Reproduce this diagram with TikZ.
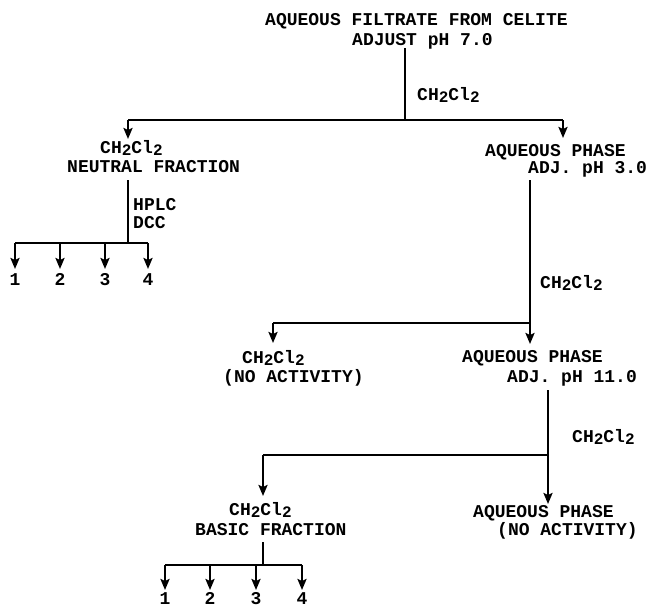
\documentclass[tikz,border=0pt]{standalone}
\usepackage{fontspec}
\setmainfont{Liberation Mono}
\usetikzlibrary{arrows.meta}
\newcommand\lowsub[1]{\raisebox{-2.5pt}{\fontsize{16}{18}\selectfont #1}}
\newcommand\chcl{CH\lowsub{2}Cl\lowsub{2}}
\begin{document}
\begin{tikzpicture}[x=1pt,y=-1pt,
  lbl/.style={anchor=base west, inner sep=0pt, font=\fontsize{18}{20}\selectfont\bfseries},
  numlbl/.style={anchor=base, inner sep=0pt, font=\fontsize{18}{20}\selectfont\bfseries},
  wire/.style={line width=2pt},
  bar/.style={line width=2.8pt},
  arr/.style={line width=2.2pt, -{Stealth[length=11pt,width=9pt,inset=2pt]}}]
\useasboundingbox (0,0) rectangle (650,608);
% texts
\node[lbl] (t1) at (265,25) {AQUEOUS FILTRATE FROM CELITE};
\node[lbl] (t2) at (352,45) {ADJUST pH 7.0};
\node[lbl] (r1) at (417,100) {\chcl};
\node[lbl] (n1) at (100,153) {\chcl};
\node[lbl] (n2) at (67,172) {NEUTRAL FRACTION};
\node[lbl] (hplc) at (133,210) {HPLC};
\node[lbl] (dcc) at (133,228) {DCC};
\node[numlbl] (p1) at (15,285) {1};
\node[numlbl] (p2) at (60,285) {2};
\node[numlbl] (p3) at (105,285) {3};
\node[numlbl] (p4) at (148,285) {4};
\node[lbl] (a1) at (485,156) {AQUEOUS PHASE};
\node[lbl] (a2) at (528,173) {ADJ. pH 3.0};
\node[lbl] (r2) at (540,288) {\chcl};
\node[lbl] (c1) at (242,363) {\chcl};
\node[lbl] (c2) at (223,382) {(NO ACTIVITY)};
\node[lbl] (b1) at (462,362) {AQUEOUS PHASE};
\node[lbl] (b2) at (507,382) {ADJ. pH 11.0};
\node[lbl] (r3) at (572,442) {\chcl};
\node[lbl] (d1) at (229,515) {\chcl};
\node[lbl] (d2) at (195,535) {BASIC FRACTION};
\node[lbl] (e1) at (473,517) {AQUEOUS PHASE};
\node[lbl] (e2) at (497,535) {(NO ACTIVITY)};
\node[numlbl] (q1) at (165,604) {1};
\node[numlbl] (q2) at (210,604) {2};
\node[numlbl] (q3) at (256,604) {3};
\node[numlbl] (q4) at (302,604) {4};
% junction coordinates
\coordinate (s1) at (405,48);
\coordinate (j1) at (405,120);
\coordinate (j1l) at (128,120);
\coordinate (j1r) at (563,120);
\coordinate (k1l) at (128,139);
\coordinate (k1r) at (563,138);
\coordinate (s2) at (128,180);
\coordinate (j2) at (128,243);
\coordinate (j2a) at (15,243);
\coordinate (j2b) at (60,243);
\coordinate (j2c) at (105,243);
\coordinate (j2d) at (148,243);
\coordinate (k2a) at (15,269);
\coordinate (k2b) at (60,269);
\coordinate (k2c) at (105,269);
\coordinate (k2d) at (148,269);
\coordinate (s3) at (530,180);
\coordinate (j3) at (530,323);
\coordinate (j3l) at (273,323);
\coordinate (k3l) at (273,343);
\coordinate (k3r) at (530,344);
\coordinate (s4) at (548,390);
\coordinate (j4) at (548,455);
\coordinate (j4l) at (263,455);
\coordinate (k4l) at (263,496);
\coordinate (k4r) at (548,504);
\coordinate (s5) at (263,542);
\coordinate (j5) at (263,565);
\coordinate (j5a) at (165,565);
\coordinate (j5b) at (210,565);
\coordinate (j5c) at (256,565);
\coordinate (j5d) at (302,565);
\coordinate (k5a) at (165,590);
\coordinate (k5b) at (210,590);
\coordinate (k5c) at (256,590);
\coordinate (k5d) at (302,590);
% level 1
\draw[wire] (s1) -- (j1);
\draw[bar] (j1l) -- (j1r);
\draw[arr] (j1l) -- (k1l);
\draw[arr] (j1r) -- (k1r);
% neutral fraction split
\draw[wire] (s2) -- (j2);
\draw[bar] (j2a) -- (j2d);
\foreach \c/\k in {j2a/k2a,j2b/k2b,j2c/k2c,j2d/k2d}
  \draw[arr] (\c) -- (\k);
% level 2
\draw[wire] (s3) -- (j3);
\draw[bar] (j3l) -- (j3);
\draw[arr] (j3l) -- (k3l);
\draw[arr] (j3) -- (k3r);
% level 3
\draw[wire] (s4) -- (j4);
\draw[bar] (j4l) -- (j4);
\draw[arr] (j4l) -- (k4l);
\draw[arr] (j4) -- (k4r);
% basic fraction split
\draw[wire] (s5) -- (j5);
\draw[bar] (j5a) -- (j5d);
\foreach \c/\k in {j5a/k5a,j5b/k5b,j5c/k5c,j5d/k5d}
  \draw[arr] (\c) -- (\k);
\end{tikzpicture}
\end{document}
